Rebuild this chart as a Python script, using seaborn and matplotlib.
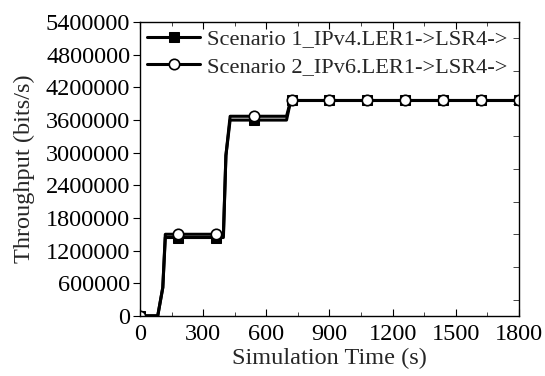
import numpy as np
import pandas as pd
import matplotlib
matplotlib.use("Agg")
import matplotlib.pyplot as plt
import seaborn as sns
from matplotlib.ticker import MultipleLocator, ScalarFormatter


# -----------------------------
time_s = [0, 36, 84, 108, 120, 180, 360, 396, 408, 428, 540, 696, 716, 720,
          900, 1080, 1260, 1440, 1620, 1800]
ipv4_tp = [0, 0, 0, 520000, 1440000, 1440000, 1440000, 1440000, 2950000, 3600000,
           3600000, 3600000, 3960000, 3960000, 3960000, 3960000, 3960000, 3960000,
           3960000, 3960000]
ipv6_tp = [0, 0, 0, 520000, 1500000, 1500000, 1500000, 1500000, 2950000, 3670000,
           3670000, 3670000, 3960000, 3960000, 3960000, 3960000, 3960000, 3960000,
           3960000, 3960000]
marker_times = [0, 180, 360, 540, 720, 900, 1080, 1260, 1440, 1620, 1800]
labels = ['Scenario 1_IPv4.LER1->LSR4->', 'Scenario 2_IPv6.LER1->LSR4->']

df = pd.DataFrame({'Time': time_s, 'IPv4': ipv4_tp, 'IPv6': ipv6_tp})
mark_idx = [time_s.index(t) for t in marker_times]


# -----------------------------
sns.set_style('ticks')
plt.rcParams['font.family'] = ['Liberation Serif', 'DejaVu Serif']

fig = plt.figure(figsize=(5.45, 3.76), dpi=100)
ax = fig.add_axes([0.257, 0.160, 0.695, 0.781])

sns.lineplot(data=df, x='Time', y='IPv4', ax=ax, color='black', lw=2.2,
             marker='s', ms=7, mfc='black', mec='black', markevery=mark_idx,
             label=labels[0])
sns.lineplot(data=df, x='Time', y='IPv6', ax=ax, color='black', lw=2.2,
             marker='o', ms=7.5, mfc='white', mec='black', mew=1.2,
             markevery=mark_idx, label=labels[1])

ax.set_xlim(0, 1800)
ax.set_ylim(0, 5400000)
ax.xaxis.set_major_locator(MultipleLocator(300))
ax.xaxis.set_minor_locator(MultipleLocator(150))
ax.yaxis.set_major_locator(MultipleLocator(600000))
ax.yaxis.set_minor_locator(MultipleLocator(300000))
fmt = ScalarFormatter(useOffset=False)
fmt.set_scientific(False)
ax.yaxis.set_major_formatter(fmt)

for s in ax.spines.values():
    s.set_linewidth(1.0)
    s.set_color('black')

ax.tick_params(axis='both', which='major', labelsize=17.5, colors='black')
ax.tick_params(axis='x', which='both', direction='in', top=True)
ax.tick_params(axis='x', which='major', length=5, pad=6)
ax.tick_params(axis='x', which='minor', length=3)
ax.tick_params(axis='y', which='major', direction='out', length=5, pad=2,
               right=False)
ax.tick_params(axis='y', which='minor', left=False, right=True,
               direction='in', length=4)

ax.set_xlabel('Simulation Time (s)', fontsize=17.5, labelpad=2)
ax.set_ylabel('Throughput (bits/s)', fontsize=17.5, labelpad=8)

leg = ax.legend(loc='upper left', fontsize=16.1, frameon=False,
                handlelength=2.4, handletextpad=0.3, borderaxespad=0.0,
                borderpad=0.3, labelspacing=0.3, bbox_to_anchor=(0.0, 1.0))

fig.savefig('out.png', dpi=100)
